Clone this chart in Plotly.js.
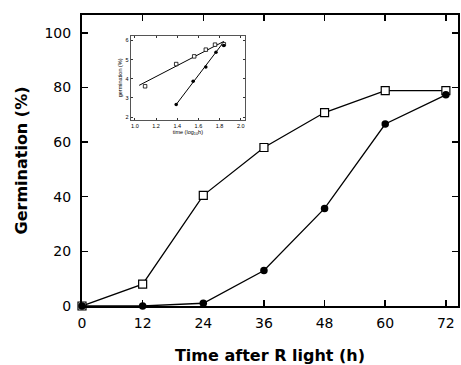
<!DOCTYPE html>
<html><head><meta charset="utf-8">
<script src="https://cdn.plot.ly/plotly-3.0.1.min.js"></script>
<style>html,body{margin:0;padding:0;background:#fff}</style>
</head><body>
<div id="chart" style="width:461px;height:365px"></div>
<script>
// Main chart data
var hours = [0, 12, 24, 36, 48, 60, 72];
var openSeries = [0, 8, 40.5, 58, 70.8, 78.8, 78.8];
var filledSeries = [0, 0, 1, 13, 35.7, 66.6, 77.3];
var xTicks = [0, 12, 24, 36, 48, 60, 72];
var yTicks = [0, 20, 40, 60, 80, 100];

// Inset data (log10 hours vs germination)
var insetOpenX = [1.096, 1.39, 1.56, 1.67, 1.757, 1.84];
var insetOpenY = [3.61, 4.77, 5.17, 5.52, 5.78, 5.8];
var insetFilledX = [1.39, 1.55, 1.67, 1.766, 1.84];
var insetFilledY = [2.66, 3.87, 4.62, 5.38, 5.74];
var insetOpenFitX = [1.04, 1.84];
var insetOpenFitY = [3.66, 5.95];
var insetFilledFitX = [1.39, 1.84];
var insetFilledFitY = [2.66, 5.93];
var insetXTicks = [1.0, 1.2, 1.4, 1.6, 1.8, 2.0];
var insetXTickText = ['1.0', '1.2', '1.4', '1.6', '1.8', '2.0'];
var insetYTicks = [2, 3, 4, 5, 6];

var traces = [
  {x: hours, y: openSeries, mode: 'lines+markers', type: 'scatter',
   line: {color: '#000', width: 1.3},
   marker: {symbol: 'square', size: 8, color: '#fff', line: {width: 1.2, color: '#000'}},
   cliponaxis: false, showlegend: false},
  {x: hours, y: filledSeries, mode: 'lines+markers', type: 'scatter',
   line: {color: '#000', width: 1.3},
   marker: {symbol: 'circle', size: 7.5, color: '#000'},
   cliponaxis: false, showlegend: false},
  {x: insetOpenFitX, y: insetOpenFitY, xaxis: 'x2', yaxis: 'y2', mode: 'lines', type: 'scatter',
   line: {color: '#000', width: 1}, showlegend: false},
  {x: insetFilledFitX, y: insetFilledFitY, xaxis: 'x2', yaxis: 'y2', mode: 'lines', type: 'scatter',
   line: {color: '#000', width: 1}, showlegend: false},
  {x: insetOpenX, y: insetOpenY, xaxis: 'x2', yaxis: 'y2', mode: 'markers', type: 'scatter',
   marker: {symbol: 'square', size: 3.5, color: '#fff', line: {width: 0.8, color: '#000'}}, showlegend: false},
  {x: insetFilledX, y: insetFilledY, xaxis: 'x2', yaxis: 'y2', mode: 'markers', type: 'scatter',
   marker: {symbol: 'circle', size: 3.5, color: '#000'}, showlegend: false}
];

var tickFont = {family: 'DejaVu Sans, sans-serif', size: 14, color: '#000'};
var titleFont = {family: 'DejaVu Sans, sans-serif', size: 16, color: '#000', weight: 'bold'};
var smallFont = {family: 'Liberation Sans, Arial, sans-serif', size: 5.5, color: '#000'};
var layout = {
  width: 461, height: 365,
  margin: {l: 82, r: 3, t: 15, b: 59},
  paper_bgcolor: '#fff', plot_bgcolor: '#fff',
  showlegend: false,
  xaxis: {
    range: [0, 74.4], tickvals: xTicks, ticktext: xTicks.map(String),
    ticks: 'inside', ticklen: 6, tickwidth: 1.5, tickcolor: '#000',
    showline: true, linecolor: '#000', linewidth: 2, mirror: 'ticks',
    showgrid: false, zeroline: false, tickfont: tickFont, ticklabelstandoff: 3,
    title: {text: 'Time after R light (h)', standoff: 20, font: titleFont}
  },
  yaxis: {
    range: [0, 106.5], tickvals: yTicks, ticktext: yTicks.map(String),
    ticks: 'inside', ticklen: 6, tickwidth: 1.5, tickcolor: '#000',
    showline: true, linecolor: '#000', linewidth: 2, mirror: 'ticks',
    showgrid: false, zeroline: false, tickfont: tickFont, ticklabelstandoff: 6,
    title: {text: 'Germination (%)', standoff: 13, font: titleFont}
  },
  xaxis2: {
    domain: [0.1295, 0.4335], anchor: 'y2', range: [0.96, 2.04],
    tickvals: insetXTicks, ticktext: insetXTickText,
    ticks: 'inside', ticklen: 2, tickwidth: 0.8, tickcolor: '#000',
    showline: true, linecolor: '#555', linewidth: 1, mirror: 'ticks',
    showgrid: false, zeroline: false, tickfont: smallFont,
    title: {text: 'time (log<sub>10</sub>h)', standoff: 2, font: smallFont}
  },
  yaxis2: {
    domain: [0.639, 0.929], anchor: 'x2', range: [1.85, 6.25],
    tickvals: insetYTicks, ticktext: insetYTicks.map(String),
    ticks: 'inside', ticklen: 2, tickwidth: 0.8, tickcolor: '#000',
    showline: true, linecolor: '#555', linewidth: 1, mirror: 'ticks',
    showgrid: false, zeroline: false, tickfont: smallFont,
    title: {text: 'germination (%)', standoff: 2, font: smallFont}
  }
};

Plotly.newPlot('chart', traces, layout, {displayModeBar: false, staticPlot: true});
</script>
</body></html>
